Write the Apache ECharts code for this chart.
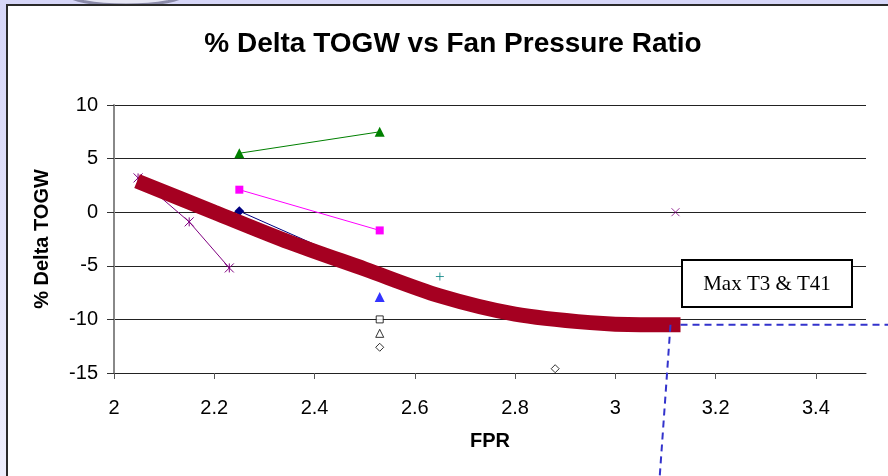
<!DOCTYPE html>
<html><head><meta charset="utf-8">
<script src="https://cdn.jsdelivr.net/npm/echarts@6/dist/echarts.min.js"></script>
<style>
html,body{margin:0;padding:0;width:888px;height:476px;overflow:hidden;background:linear-gradient(#d6d6f8,#eeeefc);}
#c{position:absolute;left:0;top:0;width:888px;height:476px;}
</style>
</head><body><div id="c"></div>
<script>
// ---- data ----
const xTicks = [2, 2.2, 2.4, 2.6, 2.8, 3, 3.2, 3.4];
const yTicks = [-15, -10, -5, 0, 5, 10];
const curveFPR  = [2.046, 2.2, 2.35, 2.5, 2.65, 2.8, 2.95, 3.05, 3.13];
const curveTOGW = [2.9, 0.0, -2.8, -5.3, -7.8, -9.5, -10.3, -10.5, -10.5];
const purpleFPR  = [2.048, 2.15, 2.23];
const purpleTOGW = [3.2, -0.9, -5.2];
const purpleXFPR = [3.12];
const purpleXTOGW = [0];
const navyFPR  = [2.25, 2.53];
const navyTOGW = [0.1, -5.7];
const magentaFPR  = [2.25, 2.53];
const magentaTOGW = [2.1, -1.7];
const greenFPR  = [2.25, 2.53];
const greenTOGW = [5.5, 7.5];
const blueTriFPR = [2.53];
const blueTriTOGW = [-7.9];
const openSqFPR = [2.53];
const openSqTOGW = [-10.0];
const openTriFPR = [2.53];
const openTriTOGW = [-11.3];
const openDiaFPR = [2.53, 2.88];
const openDiaTOGW = [-12.6, -14.6];
const tealFPR = [2.65];
const tealTOGW = [-6.0];
const annotationText = 'Max T3 & T41';
const titleText = '% Delta TOGW vs Fan Pressure Ratio';

const pairs = (xs, ys) => xs.map((x, i) => [x, ys[i]]);
const STAR = 'path://M0,0L10,10M10,0L0,10M5,0L5,10';
const CROSS = 'path://M0,0L10,10M10,0L0,10';
const PLUS = 'path://M5,0L5,10M0,5L10,5';

const chart = echarts.init(document.getElementById('c'), null, {renderer: 'canvas'});
const FONT = 'Arial, "Liberation Sans", sans-serif';

const option = {
  animation: false,
  backgroundColor: 'transparent',
  grid: {left: 114, right: 22, top: 105, bottom: 103, containLabel: false},
  xAxis: {
    type: 'value', min: 2, max: 3.5, interval: 0.2,
    name: 'FPR', nameLocation: 'middle', nameGap: 58,
    nameTextStyle: {fontFamily: FONT, fontWeight: 'bold', fontSize: 20, color: '#000'},
    axisLine: {show: true, onZero: false, lineStyle: {color: '#222', width: 1}},
    axisTick: {show: true, length: 6, lineStyle: {color: '#555'}, customValues: xTicks},
    axisLabel: {fontFamily: FONT, fontSize: 20, color: '#000', margin: 25, customValues: xTicks},
    splitLine: {show: false}
  },
  yAxis: {
    type: 'value', min: -15, max: 10, interval: 5,
    name: '% Delta TOGW', nameLocation: 'middle', nameGap: 62, nameRotate: 90,
    nameTextStyle: {fontFamily: FONT, fontWeight: 'bold', fontSize: 20, color: '#000'},
    axisLine: {show: true, onZero: false, lineStyle: {color: '#888', width: 2}},
    axisTick: {show: true, length: 7, lineStyle: {color: '#333'}},
    axisLabel: {fontFamily: FONT, fontSize: 20, color: '#000', margin: 16},
    splitLine: {show: true, lineStyle: {color: '#222', width: 1}}
  },
  series: [
    {type: 'line', data: pairs(purpleFPR, purpleTOGW), symbol: STAR, symbolSize: 9,
     lineStyle: {color: '#800080', width: 1}, itemStyle: {color: 'rgba(0,0,0,0)', borderColor: '#800080', borderWidth: 1}, z: 3},
    {type: 'scatter', data: pairs(purpleXFPR, purpleXTOGW), symbol: CROSS, symbolSize: 8,
     itemStyle: {color: 'rgba(0,0,0,0)', borderColor: '#800080', borderWidth: 1}, z: 3},
    {type: 'line', data: pairs(navyFPR, navyTOGW), symbol: 'diamond', symbolSize: 10,
     lineStyle: {color: '#000080', width: 1}, itemStyle: {color: '#000080'}, z: 3},
    {type: 'line', data: pairs(magentaFPR, magentaTOGW), symbol: 'rect', symbolSize: 8,
     lineStyle: {color: '#FF00FF', width: 1}, itemStyle: {color: '#FF00FF'}, z: 3},
    {type: 'line', data: pairs(greenFPR, greenTOGW), symbol: 'triangle', symbolSize: 10,
     lineStyle: {color: '#008000', width: 1}, itemStyle: {color: '#008000'}, z: 3},
    {type: 'scatter', data: pairs(blueTriFPR, blueTriTOGW), symbol: 'triangle', symbolSize: 10,
     itemStyle: {color: '#0000FF'}, z: 3},
    {type: 'scatter', data: pairs(openSqFPR, openSqTOGW), symbol: 'rect', symbolSize: 7,
     itemStyle: {color: '#fff', borderColor: '#000', borderWidth: 1}, z: 3},
    {type: 'scatter', data: pairs(openTriFPR, openTriTOGW), symbol: 'triangle', symbolSize: 8,
     itemStyle: {color: '#fff', borderColor: '#000', borderWidth: 1}, z: 3},
    {type: 'scatter', data: pairs(openDiaFPR, openDiaTOGW), symbol: 'diamond', symbolSize: 8,
     itemStyle: {color: '#fff', borderColor: '#000', borderWidth: 1}, z: 3},
    {type: 'scatter', data: pairs(tealFPR, tealTOGW), symbol: PLUS, symbolSize: 8,
     itemStyle: {color: 'rgba(0,0,0,0)', borderColor: '#008080', borderWidth: 1}, z: 3},
    {type: 'line', data: pairs(curveFPR, curveTOGW), smooth: 0.3, showSymbol: false, symbol: 'none',
     lineStyle: {color: '#A50021', width: 15, cap: 'butt'}, z: 5}
  ]
};
chart.setOption(option);

// annotation graphics positioned through the axes
const endPt = chart.convertToPixel({gridIndex: 0}, [curveFPR[curveFPR.length - 1], curveTOGW[curveTOGW.length - 1]]);
const vPt = chart.convertToPixel({gridIndex: 0}, [3.11, curveTOGW[curveTOGW.length - 1]]);
const dash = {stroke: '#3333cc', lineWidth: 2, lineDash: [7, 5]};
chart.setOption({
  graphic: [
    {type: 'ellipse', shape: {cx: 126, cy: -6, rx: 58, ry: 11}, style: {fill: '#e6e6f4', stroke: '#8a8aa8', lineWidth: 3}, z: -30, silent: true},
    {type: 'rect', shape: {x: 7, y: 5, width: 900, height: 490}, style: {fill: '#fff', stroke: '#2a2a2a', lineWidth: 2}, z: -20, silent: true},
    {type: 'text', x: 453, y: 44, style: {text: titleText, font: 'bold 28px ' + FONT, fill: '#000', textAlign: 'center', textVerticalAlign: 'middle'}, z: 10},
    {type: 'line', shape: {x1: endPt[0], y1: endPt[1], x2: 890, y2: endPt[1]}, style: dash, z: 6},
    {type: 'line', shape: {x1: vPt[0], y1: vPt[1], x2: vPt[0] - 11, y2: 480}, style: dash, z: 6},
    {type: 'rect', shape: {x: 682, y: 260, width: 170, height: 47}, style: {fill: '#fff', stroke: '#000', lineWidth: 2}, z: 8},
    {type: 'text', x: 767, y: 284, style: {text: annotationText, font: '21px "Liberation Serif", "Times New Roman", serif', fill: '#000', textAlign: 'center', textVerticalAlign: 'middle'}, z: 9}
  ]
});
</script>
</body></html>
